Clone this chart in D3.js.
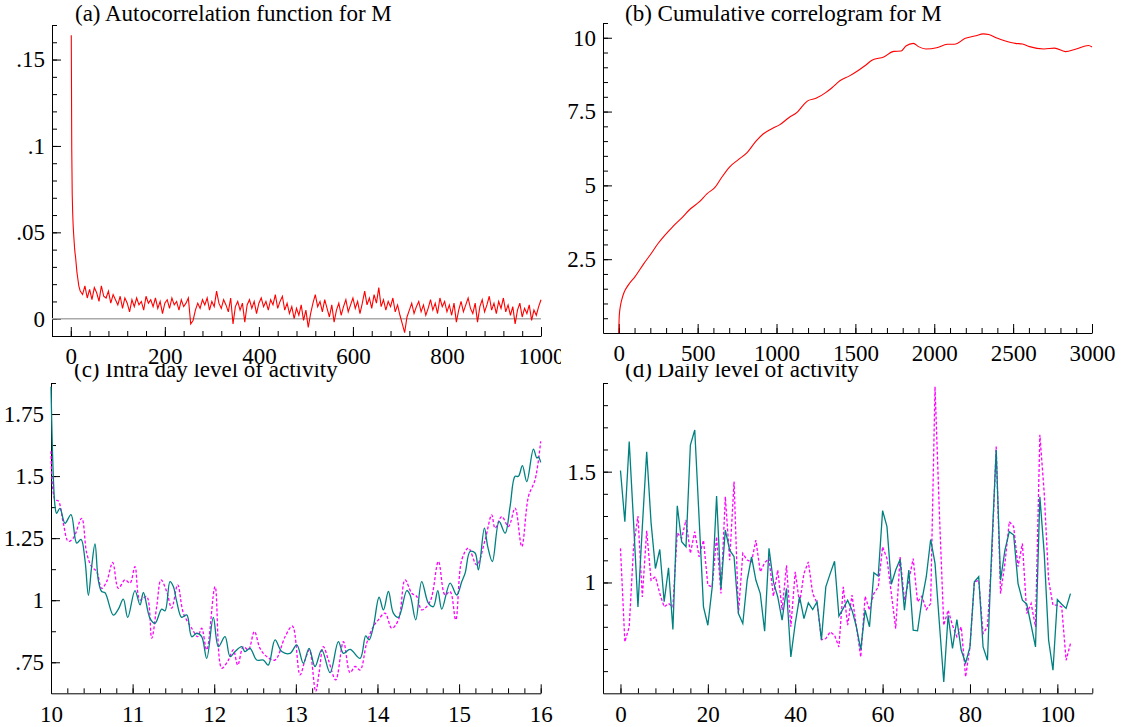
<!DOCTYPE html>
<html>
<head>
<meta charset="utf-8">
<script src="https://cdn.jsdelivr.net/npm/d3@7"></script>
<style>
  body { margin: 0; background: #fff; }
  svg { display: block; background: #fff; }
  .axis text { font-family: "Liberation Serif", "Times New Roman", serif; font-size: 23px; fill: #000; }
  .axis path, .axis line { stroke: #000; }
  .title { font-family: "Liberation Serif", "Times New Roman", serif; font-size: 23px; fill: #000; }
</style>
</head>
<body>
<svg width="1122" height="727"></svg>
<script>
(function () {
  'use strict';

  // (a) autocorrelation of M, in units of 1e-3
  // lags 1..20 one by one
  var acfHead = [164, 98, 72, 61, 54, 49, 45, 41, 38, 36, 33, 30, 27, 25, 23, 21, 19, 18, 17, 16];
  // then every 5th lag, 25..1000
  var acfTail = [
    14, 19, 12, 17, 11, 18, 15, 10, 19, 13, 12, 16, 9, 14, 11, 8, 13, 6, 12, 9,
    4, 11, 7, 12, 8, 10, 5, 13, 9, 11, 7, 12, 6, 10, 3, 9, 11, 6, 12, 8,
    10, 5, 11, 7, 9, 12, -3, -1, 5, 9, 6, 11, 8, 12, 5, 10, 7, 16, 9, 6,
    11, 8, 4, 12, -3, 7, 10, 5, 9, -2, 8, 11, 6, 10, 3, 9, 12, 7, 10, 5,
    11, 8, 14, 6, 10, 13, 5, 9, 3, 7, 0, 6, 2, 8, -1, 5, -5, 3, 9, 14,
    7, 10, 4, 11, 6, 1, 8, -2, 5, 9, 2, 7, 11, 4, 8, 12, 6, 10, 3, 9,
    16, 8, 12, 6, 14, 9, 18, 7, 11, 5, 10, 7, 12, 4, 8, 2, -3, -8, 1, 5,
    9, 3, 7, 10, 4, 8, 2, 6, 11, 5, 9, 3, 12, 7, 10, 4, 8, 2, 9, -2,
    5, 10, 4, 8, 12, 6, 3, 9, -2, 7, 11, 4, 8, 13, 5, 9, 3, 10, 6, 12,
    4, 8, 2, 7, -3, 5, 9, 1, 6, 3, 8, -1, 5, 2, 7, 11
  ];

  // (b) cumulative correlogram [lag, value]
  var cumCorr = [
    [0, 0], [2, 0.45], [5, 0.7], [10, 0.9], [20, 1.15], [34, 1.38], [60, 1.62], [102, 1.9], [159, 2.35],
    [200, 2.65], [249, 3.03], [290, 3.3], [340, 3.59], [400, 3.9], [453, 4.2], [510, 4.44],
    [560, 4.72], [611, 4.94], [650, 5.25], [702, 5.62], [760, 5.88], [815, 6.12], [870, 6.5],
    [917, 6.75], [970, 6.92], [1019, 7.05], [1080, 7.3], [1132, 7.48], [1170, 7.72], [1200, 7.87],
    [1250, 7.95], [1314, 8.15], [1350, 8.3], [1404, 8.55], [1460, 8.7], [1518, 8.89], [1560, 9.05],
    [1608, 9.25], [1680, 9.35], [1744, 9.54], [1790, 9.55], [1820, 9.72], [1868, 9.81], [1900, 9.7],
    [1947, 9.62], [2015, 9.66], [2083, 9.78], [2128, 9.78], [2197, 9.98], [2265, 10.07], [2310, 10.13],
    [2345, 10.11], [2401, 9.98], [2446, 9.9], [2514, 9.81], [2559, 9.79], [2604, 9.7], [2695, 9.62],
    [2763, 9.65], [2831, 9.53], [2899, 9.62], [2978, 9.74], [3000, 9.69]
  ];

  // (c) intra day level of activity [hour, level]
  var intraTeal = [
    [10.000, 1.86], [10.049, 1.38], [10.069, 1.35], [10.110, 1.37], [10.172, 1.31], [10.245, 1.345],
    [10.315, 1.23], [10.368, 1.245], [10.417, 1.16], [10.458, 1.02], [10.498, 1.135], [10.539, 1.227],
    [10.580, 1.08], [10.621, 1.035], [10.662, 1.03], [10.764, 0.94], [10.825, 0.964], [10.886, 1.004],
    [10.940, 0.931], [11.029, 1.039], [11.091, 0.981], [11.132, 1.031], [11.213, 0.927], [11.275, 0.907],
    [11.356, 0.964], [11.397, 0.957], [11.458, 1.075], [11.499, 1.055], [11.540, 0.995], [11.601, 0.931],
    [11.663, 0.941], [11.724, 0.853], [11.785, 0.867], [11.846, 0.853], [11.908, 0.766], [11.989, 0.931],
    [12.051, 0.813], [12.132, 0.853], [12.194, 0.773], [12.255, 0.793], [12.337, 0.813], [12.377, 0.793],
    [12.439, 0.806], [12.520, 0.759], [12.602, 0.759], [12.663, 0.739], [12.745, 0.84], [12.827, 0.793],
    [12.929, 0.786], [13.011, 0.82], [13.092, 0.746], [13.162, 0.806], [13.235, 0.733], [13.317, 0.8],
    [13.419, 0.708], [13.521, 0.833], [13.583, 0.786], [13.664, 0.802], [13.787, 0.766], [13.856, 0.856],
    [13.897, 0.84], [13.950, 0.894], [14.020, 1.012], [14.073, 0.961], [14.134, 1.035], [14.195, 0.948],
    [14.257, 0.931], [14.359, 1.039], [14.400, 1.021], [14.469, 0.921], [14.542, 1.075], [14.624, 0.988],
    [14.685, 0.974], [14.739, 1.039], [14.788, 0.964], [14.890, 1.069], [14.971, 1.021], [15.033, 1.075],
    [15.074, 1.109], [15.135, 1.196], [15.196, 1.19], [15.237, 1.122], [15.310, 1.29], [15.351, 1.216],
    [15.408, 1.156], [15.490, 1.317], [15.564, 1.27], [15.625, 1.378], [15.686, 1.499], [15.727, 1.499],
    [15.776, 1.542], [15.829, 1.478], [15.911, 1.609], [15.952, 1.573], [15.972, 1.577], [16.000, 1.555]
  ];
  var intraPink = [
    [10.000, 1.60], [10.049, 1.405], [10.090, 1.40], [10.151, 1.31], [10.212, 1.237], [10.274, 1.25],
    [10.376, 1.33], [10.437, 1.19], [10.498, 1.135], [10.560, 1.115], [10.621, 1.048], [10.682, 1.075],
    [10.756, 1.152], [10.825, 1.048], [10.907, 1.082], [10.968, 1.069], [11.029, 1.135], [11.091, 1.001],
    [11.172, 1.015], [11.234, 0.847], [11.295, 0.974], [11.348, 1.082], [11.417, 1.035], [11.479, 0.968],
    [11.552, 1.062], [11.622, 0.948], [11.724, 0.887], [11.797, 0.853], [11.846, 0.887], [11.908, 0.80],
    [12.010, 1.055], [12.092, 0.726], [12.173, 0.759], [12.234, 0.80], [12.288, 0.739], [12.357, 0.813],
    [12.418, 0.80], [12.492, 0.874], [12.561, 0.806], [12.643, 0.773], [12.745, 0.759], [12.868, 0.853],
    [12.958, 0.896], [13.051, 0.699], [13.113, 0.759], [13.166, 0.80], [13.243, 0.632], [13.284, 0.706],
    [13.337, 0.813], [13.399, 0.759], [13.489, 0.679], [13.583, 0.833], [13.664, 0.708], [13.725, 0.733],
    [13.787, 0.719], [13.868, 0.827], [13.950, 0.894], [14.011, 0.921], [14.093, 0.948], [14.175, 0.887],
    [14.257, 0.921], [14.338, 1.082], [14.420, 1.028], [14.481, 1.015], [14.542, 0.961], [14.645, 0.995],
    [14.747, 1.156], [14.828, 1.021], [14.890, 1.035], [14.959, 0.921], [15.033, 1.163], [15.114, 1.21],
    [15.216, 1.142], [15.319, 1.243], [15.400, 1.344], [15.441, 1.29], [15.523, 1.337], [15.605, 1.297],
    [15.686, 1.371], [15.768, 1.216], [15.850, 1.418], [15.931, 1.485], [16.000, 1.64]
  ];

  // (d) daily level of activity, days 0..103
  var dailyTeal = [
    1.505, 1.274, 1.636, 1.27, 0.89, 1.25, 1.59, 1.27, 1.063, 1.149,
    0.913, 1.066, 0.788, 1.346, 1.184, 1.161, 1.62, 1.688, 1.29, 0.89,
    0.807, 0.98, 1.39, 0.973, 1.236, 1.146, 1.116, 0.86, 0.815, 1.01,
    1.116, 1.01, 0.95, 0.78, 1.154, 1.003, 0.935, 0.83, 0.973, 0.664,
    0.815, 0.935, 0.837, 0.908, 0.878, 0.913, 0.742, 0.98, 1.04, 1.096,
    0.848, 0.883, 0.92, 0.875, 0.8, 0.697, 0.875, 0.8, 1.044, 1.029,
    1.324, 1.252, 0.992, 1.056, 1.104, 0.875, 1.056, 0.785, 0.782, 0.92,
    1.026, 1.194, 1.086, 0.815, 0.551, 0.852, 0.702, 0.833, 0.694, 0.637,
    0.709, 1.003, 1.026, 0.709, 0.649, 1.16, 1.598, 1.01, 1.146, 1.229,
    1.214, 0.995, 0.92, 0.902, 0.807, 0.709, 1.387, 1.13, 0.74, 0.604,
    0.923, 0.902, 0.883, 0.95
  ];
  var dailyPink = [
    1.154, 0.732, 0.8, 1.161, 1.30, 0.935, 1.233, 1.01, 1.026, 0.95,
    0.89, 0.905, 0.89, 1.224, 1.199, 1.282, 1.131, 1.229, 1.116, 1.191,
    0.988, 0.98, 1.206, 0.95, 1.387, 1.101, 1.455, 0.86, 1.131, 1.101,
    1.093, 1.191, 1.048, 1.089, 1.108, 0.938, 1.056, 0.875, 1.078, 0.8,
    1.048, 0.905, 1.041, 1.093, 0.95, 0.908, 0.742, 0.747, 0.777, 0.762,
    0.709, 0.98, 0.807, 0.943, 0.8, 0.664, 0.938, 0.875, 0.95, 0.98,
    1.161, 1.108, 0.95, 0.792, 1.116, 0.92, 1.01, 1.108, 0.913, 0.938,
    0.878, 0.905, 1.884, 1.312, 0.807, 0.875, 0.807, 0.755, 0.8, 0.574,
    0.709, 1.003, 1.01, 0.77, 0.8, 1.116, 1.613, 0.95, 1.086, 1.274,
    1.252, 1.071, 1.176, 0.86, 0.905, 0.8, 1.666, 1.402, 1.01, 0.898,
    0.898, 0.89, 0.649, 0.724
  ];

  var RED = "#ff0000", TEAL = "#008080", PINK = "#ff00ff";
  var SERIF = '"Liberation Serif", "Times New Roman", serif';

  var svg = d3.select("svg");
  var defs = svg.append("defs");

  //drop the leading zero like ".15" and ".75"
  function noLead(d) {
    var s = String(d);
    return s.indexOf("0.") === 0 ? s.substring(1) : s;
  }

  //one panel: clip box, axes with minor/major inward ticks, title
  function panel(p) {
    defs.append("clipPath").attr("id", p.id)
      .append("rect")
        .attr("x", p.box[0]).attr("y", p.box[1])
        .attr("width", p.box[2]).attr("height", p.box[3]);

    var g = svg.append("g").attr("clip-path", "url(#" + p.id + ")");

    var x = d3.scaleLinear().domain(p.xDomain).range(p.xRange);
    var y = d3.scaleLinear().domain(p.yDomain).range(p.yRange);

    var xg = g.append("g").attr("class", "axis")
        .attr("transform", "translate(0," + p.yRange[0] + ")");
    xg.append("g")
        .call(d3.axisBottom(x).tickValues(p.xMinor).tickSize(-5).tickSizeOuter(0).tickFormat(""));
    xg.append("g")
        .call(d3.axisBottom(x).tickValues(p.xMajor).tickSize(-9).tickPadding(12).tickFormat(p.xFmt || noLead))
        .call(function(a) { a.select(".domain").remove(); });

    var yg = g.append("g").attr("class", "axis")
        .attr("transform", "translate(" + p.xRange[0] + ",0)");
    yg.append("g")
        .call(d3.axisLeft(y).tickValues(p.yMinor).tickSize(-5).tickSizeOuter(0).tickFormat(""));
    yg.append("g")
        .call(d3.axisLeft(y).tickValues(p.yMajor).tickSize(-9).tickPadding(7).tickFormat(noLead))
        .call(function(a) { a.select(".domain").remove(); });

    g.selectAll(".axis").attr("font-family", SERIF).attr("font-size", 23);

    g.append("text").attr("class", "title")
        .attr("font-family", SERIF)
        .attr("x", p.titleAt[0]).attr("y", p.titleAt[1])
        .text(p.title);

    return { g: g, x: x, y: y };
  }

  function step(a, b, s) { return d3.range(a, b + s / 2, s).map(function(v) { return +v.toFixed(4); }); }

  // ---- (a)
  var A = panel({
    id: "clipA", box: [0, 0, 561, 364],
    xDomain: [-40, 1000], xRange: [52, 541],
    yDomain: [-0.01, 0.17], yRange: [336, 25],
    xMinor: step(0, 1000, 40), xMajor: step(0, 1000, 200),
    yMinor: step(-0.01, 0.17, 0.01), yMajor: [0, 0.05, 0.1, 0.15],
    title: "(a) Autocorrelation function for M", titleAt: [75, 21]
  });
  var acf = acfHead.map(function(v, i) { return [i + 1, v / 1000]; })
      .concat(acfTail.map(function(v, i) { return [25 + 5 * i, v / 1000]; }));

  A.g.append("line")
      .attr("x1", A.x.range()[0]).attr("x2", A.x.range()[1])
      .attr("y1", A.y(0)).attr("y2", A.y(0))
      .attr("stroke", "#aaaaaa").attr("stroke-width", 1.5);

  A.g.append("path").datum(acf)
      .attr("fill", "none").attr("stroke", RED).attr("stroke-width", 1.1)
      .attr("d", d3.line().x(function(d) { return A.x(d[0]); }).y(function(d) { return A.y(d[1]); }));

  // ---- (b)
  var B = panel({
    id: "clipB", box: [561, 0, 561, 364],
    xDomain: [-100, 3000], xRange: [603, 1092],
    yDomain: [0, 10.5], yRange: [333, 23],
    xMinor: step(0, 3000, 100), xMajor: step(0, 3000, 500),
    yMinor: step(0.5, 10.5, 0.5), yMajor: [2.5, 5, 7.5, 10],
    title: "(b) Cumulative correlogram for M", titleAt: [625, 21]
  });
  B.g.append("path").datum(cumCorr)
      .attr("fill", "none").attr("stroke", RED).attr("stroke-width", 1.1)
      .attr("d", d3.line().curve(d3.curveMonotoneX)
        .x(function(d) { return B.x(d[0]); }).y(function(d) { return B.y(d[1]); }));

  // ---- (c)
  var C = panel({
    id: "clipC", box: [0, 364, 561, 363],
    xDomain: [10, 16], xRange: [51, 540.7],
    yDomain: [0.625, 1.875], yRange: [693.3, 383],
    xMinor: step(10, 16, 0.2), xMajor: step(10, 16, 1),
    yMinor: step(0.75, 1.875, 0.125), yMajor: [0.75, 1, 1.25, 1.5, 1.75],
    title: "(c) Intra day level of activity", titleAt: [74, 377]
  });
  var lineC = d3.line().curve(d3.curveCatmullRom)
      .x(function(d) { return C.x(d[0]); }).y(function(d) { return C.y(d[1]); });
  C.g.append("path").datum(intraPink)
      .attr("fill", "none").attr("stroke", PINK).attr("stroke-width", 1.3)
      .attr("stroke-dasharray", "3,2").attr("d", lineC);
  C.g.append("path").datum(intraTeal)
      .attr("fill", "none").attr("stroke", TEAL).attr("stroke-width", 1.3).attr("d", lineC);

  // ---- (d)
  var D = panel({
    id: "clipD", box: [561, 364, 561, 363],
    xDomain: [-4, 108], xRange: [603, 1092.3],
    yDomain: [0.5, 1.9], yRange: [693.3, 383],
    xMinor: step(0, 108, 4), xMajor: step(0, 100, 20),
    yMinor: step(0.6, 1.9, 0.1), yMajor: [1, 1.5],
    title: "(d) Daily level of activity", titleAt: [625, 377]
  });
  var lineD = d3.line()
      .x(function(d, i) { return D.x(i); }).y(function(d) { return D.y(d); });
  D.g.append("path").datum(dailyPink)
      .attr("fill", "none").attr("stroke", PINK).attr("stroke-width", 1.3)
      .attr("stroke-dasharray", "3,2").attr("d", lineD);
  D.g.append("path").datum(dailyTeal)
      .attr("fill", "none").attr("stroke", TEAL).attr("stroke-width", 1.3).attr("d", lineD);

}());
</script>
</body>
</html>
